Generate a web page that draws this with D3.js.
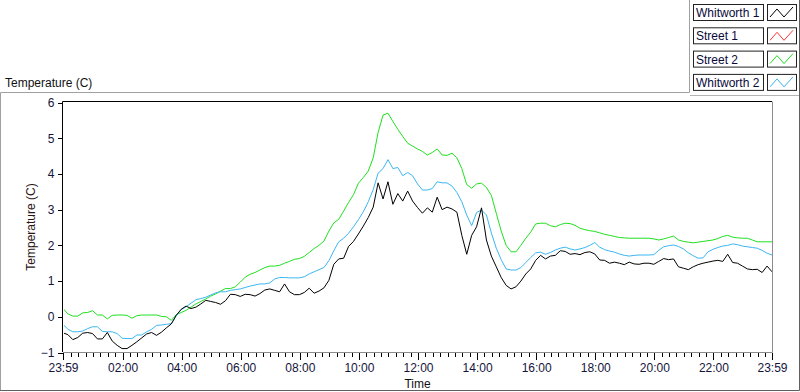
<!DOCTYPE html>
<html>
<head>
<meta charset="utf-8">
<script src="https://cdn.jsdelivr.net/npm/d3@7"></script>
<style>
  body { margin: 0; background: #fff; }
  svg { display: block; font-family: "Liberation Sans", Arial, sans-serif; }
</style>
</head>
<body>
<div id="chart"></div>
<script>
// readings every 10 minutes, 23:59 -> 23:59 next day
const startLabel = "23:59";
const stepMinutes = 10;

const whitworth1 = [
  -0.45, -0.50, -0.64, -0.58, -0.46, -0.44, -0.47, -0.62, -0.62, -0.44,
  -0.68, -0.80, -0.89, -0.89, -0.80, -0.70, -0.59, -0.48, -0.44, -0.52,
  -0.43, -0.31, -0.20, 0.04, 0.21, 0.30, 0.23, 0.27, 0.36, 0.46,
  0.43, 0.40, 0.35, 0.45, 0.63, 0.62, 0.57, 0.63, 0.62, 0.58,
  0.65, 0.75, 0.78, 0.74, 0.70, 0.92, 0.70, 0.62, 0.62, 0.68,
  0.80, 0.66, 0.72, 0.81, 1.02, 1.47, 1.62, 1.64, 1.97, 2.11,
  2.32, 2.54, 2.78, 3.07, 3.75, 3.30, 3.78, 3.15, 3.45, 3.24,
  3.52, 3.24, 3.06, 2.90, 3.05, 2.93, 3.35, 3.00, 3.07, 3.02,
  2.93, 2.28, 1.75, 2.28, 2.52, 3.05, 2.15, 1.70, 1.40, 1.10,
  0.88, 0.78, 0.84, 1.00, 1.20, 1.34, 1.58, 1.72, 1.62, 1.70,
  1.72, 1.85, 1.83, 1.75, 1.77, 1.74, 1.80, 1.82, 1.76, 1.59,
  1.58, 1.50, 1.53, 1.50, 1.46, 1.53, 1.48, 1.47, 1.50, 1.50,
  1.47, 1.55, 1.63, 1.60, 1.62, 1.40, 1.36, 1.32, 1.40, 1.46,
  1.50, 1.53, 1.56, 1.58, 1.55, 1.75, 1.52, 1.50, 1.42, 1.34,
  1.32, 1.33, 1.24, 1.42, 1.26
];

// Street 1 is listed in the legend but no trace shows on the plot
const street1 = [];

const street2 = [
  0.23, 0.08, 0.02, 0.02, 0.11, 0.12, 0.17, 0.05, 0.05, -0.06,
  0.04, 0.05, 0.05, 0.04, -0.04, 0.03, 0.05, 0.05, 0.05, 0.05,
  0.01, 0.00, -0.10, 0.06, 0.12, 0.18, 0.27, 0.36, 0.43, 0.50,
  0.58, 0.64, 0.72, 0.79, 0.79, 0.84, 0.97, 1.11, 1.19, 1.24,
  1.31, 1.38, 1.42, 1.42, 1.44, 1.50, 1.55, 1.61, 1.63, 1.69,
  1.80, 1.91, 2.00, 2.12, 2.40, 2.63, 2.73, 2.96, 3.20, 3.42,
  3.74, 3.90, 4.08, 4.45, 5.16, 5.65, 5.70, 5.47, 5.25, 5.05,
  4.86, 4.78, 4.70, 4.63, 4.53, 4.60, 4.70, 4.53, 4.52, 4.58,
  4.45, 4.15, 3.70, 3.60, 3.72, 3.74, 3.62, 3.40, 2.90, 2.40,
  2.00, 1.82, 1.82, 2.00, 2.20, 2.37, 2.60, 2.62, 2.62, 2.55,
  2.52, 2.58, 2.62, 2.61, 2.56, 2.48, 2.44, 2.41, 2.39, 2.35,
  2.31, 2.28, 2.25, 2.22, 2.21, 2.20, 2.20, 2.20, 2.20, 2.20,
  2.18, 2.15, 2.18, 2.22, 2.26, 2.15, 2.11, 2.09, 2.07, 2.09,
  2.11, 2.13, 2.15, 2.19, 2.25, 2.28, 2.23, 2.21, 2.20, 2.20,
  2.15, 2.10, 2.10, 2.10, 2.10
];

const whitworth2 = [
  -0.21, -0.35, -0.42, -0.42, -0.40, -0.33, -0.28, -0.28, -0.41, -0.42,
  -0.42, -0.47, -0.60, -0.61, -0.61, -0.51, -0.51, -0.42, -0.35, -0.24,
  -0.23, -0.21, -0.19, 0.03, 0.20, 0.28, 0.38, 0.48, 0.51, 0.55,
  0.61, 0.67, 0.70, 0.70, 0.74, 0.76, 0.78, 0.82, 0.86, 0.89,
  0.92, 0.92, 0.95, 1.06, 1.10, 1.10, 1.09, 1.09, 1.09, 1.12,
  1.20, 1.26, 1.32, 1.38, 1.57, 1.85, 2.10, 2.20, 2.34, 2.52,
  2.72, 2.94, 3.22, 3.56, 4.02, 4.15, 4.40, 4.15, 4.18, 3.95,
  4.04, 3.95, 3.72, 3.55, 3.55, 3.59, 3.78, 3.75, 3.75, 3.66,
  3.48, 3.22, 2.85, 2.55, 2.92, 2.99, 2.85, 2.35, 1.92, 1.60,
  1.34, 1.31, 1.31, 1.38, 1.52, 1.66, 1.79, 1.81, 1.75, 1.80,
  1.87, 1.92, 1.95, 1.90, 1.87, 1.90, 1.94, 2.00, 2.08, 1.95,
  1.88, 1.84, 1.81, 1.76, 1.72, 1.70, 1.72, 1.73, 1.73, 1.73,
  1.74, 1.86, 1.96, 1.99, 2.01, 1.97, 1.90, 1.79, 1.71, 1.64,
  1.65, 1.82, 1.89, 1.94, 1.98, 2.00, 2.04, 2.02, 1.98, 1.96,
  1.94, 1.92, 1.86, 1.78, 1.73
];

const seriesNames = ["Whitworth 1", "Street 1", "Street 2", "Whitworth 2"];
const seriesColors = ["#000000", "#ff3333", "#1fe01f", "#3cb6f2"];
const xTickLabels = ["23:59", "02:00", "04:00", "06:00", "08:00", "10:00", "12:00",
                     "14:00", "16:00", "18:00", "20:00", "22:00", "23:59"];
const yTicks = [-1, 0, 1, 2, 3, 4, 5, 6];

const W = 800, H = 392;
const plot = {left: 63, right: 772, top: 102, bottom: 352};

const svg = d3.select("#chart").append("svg")
  .attr("width", W).attr("height", H);

// minutes since the first sample
function toMinutes(label, i) {
  if (i === xTickLabels.length - 1) return 1440;
  const [h, m] = label.split(":").map(Number);
  const [h0, m0] = startLabel.split(":").map(Number);
  return ((h * 60 + m) - (h0 * 60 + m0) + 1440) % 1440;
}

const x = d3.scaleLinear().domain([0, 1440]).range([plot.left, plot.right]);
const y = d3.scaleLinear().domain([-1, 6]).range([plot.bottom + 0.5, plot.top + 0.5]);

//-------------------------------------------------------------------
// outer frame + legend panel
const frame = svg.append("g").attr("fill", "none");
frame.append("path").attr("stroke", "#a0a0a0")
  .attr("d", "M0.5,390V92.5H689.5V0");
frame.append("path").attr("stroke", "#b4b4b4")
  .attr("d", "M690,95.5H799");
frame.append("path").attr("stroke", "#606060")
  .attr("d", "M799.5,0V390.5H0");

svg.append("text")
  .attr("x", 5).attr("y", 87)
  .attr("font-size", 12).attr("fill", "#111")
  .text("Temperature (C)");

// plot area
svg.append("rect")
  .attr("x", plot.left).attr("y", plot.top)
  .attr("width", plot.right - plot.left).attr("height", plot.bottom - plot.top)
  .attr("fill", "#fff");

svg.append("defs").append("clipPath").attr("id", "clip")
  .append("rect")
  .attr("x", plot.left + 1).attr("y", plot.top)
  .attr("width", plot.right - plot.left - 1).attr("height", plot.bottom - plot.top);

//-------------------------------------------------------------------
// axes
const majorTicks = xTickLabels.map(toMinutes);
const minorTicks = d3.range(16, 1440, 15).filter(m => !majorTicks.includes(m));

svg.append("g")
  .attr("transform", `translate(0,${plot.bottom + 0.5})`)
  .call(d3.axisBottom(x).tickValues(minorTicks).tickSize(4).tickFormat(""))
  .call(g => g.select(".domain").remove());

const xAxis = svg.append("g")
  .attr("transform", `translate(0,${plot.bottom + 0.5})`)
  .call(d3.axisBottom(x).tickValues(majorTicks).tickSize(7).tickPadding(4)
    .tickFormat((d, i) => xTickLabels[i]));
xAxis.select(".domain").remove();

const yAxis = svg.append("g")
  .attr("transform", `translate(${plot.left - 0.5},0)`)
  .call(d3.axisLeft(y).tickValues(yTicks).tickSize(5).tickPadding(3)
    .tickFormat(d3.format("d")));
yAxis.select(".domain").remove();

svg.selectAll(".tick line").attr("stroke", "#000").attr("shape-rendering", "crispEdges");
svg.selectAll(".tick text").attr("font-size", 12).attr("fill", "#14143c")
  .attr("font-family", "\"Liberation Sans\", Arial, sans-serif");

svg.append("text")
  .attr("x", (plot.left + plot.right) / 2).attr("y", 388)
  .attr("text-anchor", "middle").attr("font-size", 12).attr("fill", "#111")
  .text("Time");

svg.append("text")
  .attr("transform", `translate(35,${(plot.top + plot.bottom) / 2}) rotate(-90)`)
  .attr("text-anchor", "middle").attr("font-size", 12).attr("fill", "#2a1414")
  .text("Temperature (C)");

//-------------------------------------------------------------------
// traces
const line = d3.line()
  .x((d, i) => x(i * stepMinutes))
  .y(d => y(d));

const series = [
  {data: street1, color: seriesColors[1]},
  {data: street2, color: seriesColors[2]},
  {data: whitworth2, color: seriesColors[3]},
  {data: whitworth1, color: seriesColors[0]}
];

svg.append("g").attr("clip-path", "url(#clip)")
  .selectAll("path")
  .data(series.filter(s => s.data.length))
  .enter().append("path")
    .attr("fill", "none")
    .attr("stroke", d => d.color)
    .attr("stroke-width", 1)
    .attr("d", d => line(d.data));

// plot border: dark top/left, grey bottom/right
svg.append("path").attr("fill", "none").attr("stroke", "#000")
  .attr("d", `M${plot.left - 0.5},${plot.bottom}V${plot.top - 0.5}H${plot.right}`);
svg.append("path").attr("fill", "none").attr("stroke", "#8c8c8c")
  .attr("d", `M${plot.left},${plot.bottom + 0.5}H${plot.right + 0.5}V${plot.top - 0.5}`);

//-------------------------------------------------------------------
// legend
const legend = svg.append("g")
  .selectAll("g")
  .data(seriesNames)
  .enter().append("g")
    .attr("transform", (d, i) => `translate(0,${4 + i * 23.3})`);

legend.append("rect")
  .attr("x", 693.5).attr("y", 0.5).attr("width", 70).attr("height", 16)
  .attr("fill", "#fff").attr("stroke", "#222");
legend.append("text")
  .attr("x", 696).attr("y", 13)
  .attr("font-size", 12).attr("fill", "#0a0a3a")
  .text(d => d);
legend.append("rect")
  .attr("x", 767.5).attr("y", 0.5).attr("width", 29).attr("height", 16)
  .attr("fill", "#fff").attr("stroke", "#222");
legend.append("polyline")
  .attr("fill", "none")
  .attr("stroke", (d, i) => seriesColors[i])
  .attr("points", "770,13 777,5 784,13 793,3");
</script>
</body>
</html>
